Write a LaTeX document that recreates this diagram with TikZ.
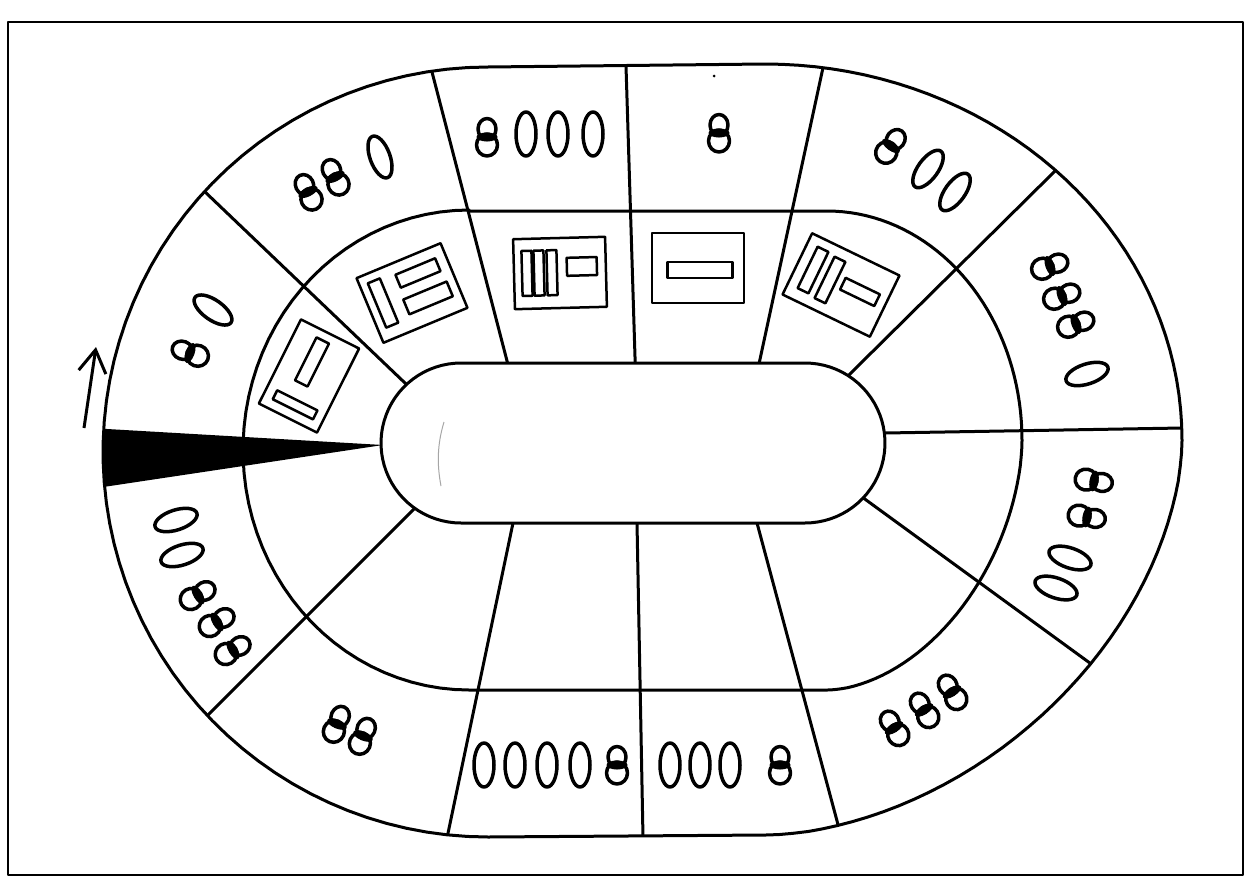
\documentclass[tikz,border=0pt]{standalone}
\usetikzlibrary{arrows.meta,calc}
\tikzset{
  board/.style={line width=0.06cm},
  glyphline/.style={line width=0.07cm},
  iconline/.style={line width=0.05cm},
  eye/.pic={
    \draw[glyphline] (0,-8) ellipse [x radius=0.18cm, y radius=0.21cm];
    \draw[glyphline] (0,8) ellipse [x radius=0.21cm, y radius=0.22cm];
    \fill (0,0) ellipse [x radius=0.21cm, y radius=0.09cm];
  },
  oval/.pic={
    \draw[glyphline] (0,0) ellipse [x radius=0.2cm, y radius=0.44cm];
  }
}
\newcommand{\icrect}[4]{\draw[iconline] ({#1-(#3)/2},{#2-(#4)/2}) rectangle ({#1+(#3)/2},{#2+(#4)/2});}
\begin{document}
\begin{tikzpicture}[x=0.02cm, y=-0.02cm, line join=round]
\useasboundingbox (0,0) rectangle (1250,879);
% page border
\draw[line width=0.045cm] (8,22) rectangle (1243,875);

% divider end points (outer side, inner side)
\coordinate (d1o) at (203,190);  \coordinate (d1i) at (405,383);
\coordinate (d2o) at (432,72);   \coordinate (d2i) at (506,357);
\coordinate (d3o) at (626,66);   \coordinate (d3i) at (635,357);
\coordinate (d4o) at (824,63);   \coordinate (d4i) at (762,350);
\coordinate (d5o) at (1053,173); \coordinate (d5i) at (862,362);
\coordinate (d6o) at (1182,428); \coordinate (d6i) at (885,433);
\coordinate (d7o) at (1072,650); \coordinate (d7i) at (862,497);
\coordinate (d8o) at (840,832);  \coordinate (d8i) at (757,523);
\coordinate (d9o) at (643,838);  \coordinate (d9i) at (637,523);
\coordinate (d10o) at (447,838); \coordinate (d10i) at (513,523);
\coordinate (d11o) at (213,710); \coordinate (d11i) at (405,518);

\begin{scope}
  \clip (488,67) -- (765,64)
    -- plot[domain=-90:0, samples=40] ({765+417*cos(\x)},{440+376*sin(\x)})
    -- plot[domain=0.5:89.5, samples=40] ({765+417*cos(\x)^1.111},{440+395*sin(\x)^1.111})
    -- (765,835) -- (488,837)
    -- plot[domain=90:270, samples=60] ({488+385*cos(\x)},{452+385*sin(\x)}) -- cycle;
  \foreach \d in {1,...,11}{
    \draw[board] ($(d\d o)!-0.15!(d\d i)$) -- ($(d\d o)!1.2!(d\d i)$);
  }
  \fill (90,428) -- (383,445) -- (90,489) -- cycle;
\end{scope}

% inner stadium
\draw[board, fill=white] (461,363) -- (805,363)
  -- plot[domain=-90:90, samples=40] ({805+80*cos(\x)},{443+80*sin(\x)})
  -- (461,523)
  -- plot[domain=90:270, samples=40] ({461+80*cos(\x)},{443+80*sin(\x)}) -- cycle;
\draw[gray!70, line width=0.02cm] (444,422) .. controls (437,445) and (437,465) .. (441,486);

% outer boundary
\draw[board] (488,67) -- (765,64)
    -- plot[domain=-90:0, samples=40] ({765+417*cos(\x)},{440+376*sin(\x)})
    -- plot[domain=0.5:89.5, samples=40] ({765+417*cos(\x)^1.111},{440+395*sin(\x)^1.111})
    -- (765,835) -- (488,837)
    -- plot[domain=90:270, samples=60] ({488+385*cos(\x)},{452+385*sin(\x)}) -- cycle;
% middle boundary
\draw[board] (469,211) -- (827,211)
    -- plot[domain=-90:0, samples=40] ({827+195*cos(\x)},{440+229*sin(\x)})
    -- plot[domain=0.5:89.5, samples=40] ({827+195*cos(\x)^1.111},{440+250*sin(\x)^1.111})
    -- (827,690) -- (469,690)
    -- plot[domain=90:270, samples=50] ({469+226*cos(\x)},{450+240*sin(\x)}) -- cycle;

% stray speck
\fill (714,76) circle [radius=0.03cm];

% glyphs in the outer ring
\path (308,192) pic[rotate=26] {eye} (335,177) pic[rotate=26] {eye} (380,157) pic[rotate=20] {oval};
\path (487,137) pic {eye} (526,134) pic {oval} (558,134) pic {oval} (593,134) pic {oval};
\path (719,133) pic {eye};
\path (891,146) pic[rotate=-36] {eye} (928,169) pic[rotate=-36] {oval} (955,192) pic[rotate=-36] {oval};
\path (1050,266) pic[rotate=-70] {eye} (1062,296) pic[rotate=-70] {eye} (1076,324) pic[rotate=-70] {eye} (1087,374) pic[rotate=-72] {oval};
\path (1094,481) pic[rotate=-100] {eye} (1087,517) pic[rotate=-100] {eye} (1070,558) pic[rotate=-109] {oval} (1056,588) pic[rotate=-109] {oval};
\path (894,728) pic[rotate=32] {eye} (924,710) pic[rotate=32] {eye} (952,692) pic[rotate=32] {eye};
\path (670,765) pic {oval} (700,765) pic {oval} (730,765) pic {oval} (780,765) pic {eye};
\path (484,765) pic {oval} (515,765) pic {oval} (547,765) pic {oval} (580,765) pic {oval} (617,765) pic {eye};
\path (337,724) pic[rotate=-23] {eye} (363,736) pic[rotate=-23] {eye};
\path (176,520) pic[rotate=-72] {oval} (182,555) pic[rotate=-72] {oval} (198,595) pic[rotate=-60] {eye} (217,622) pic[rotate=-60] {eye} (233,650) pic[rotate=-60] {eye};
\path (190,353) pic[rotate=70] {eye} (213,310) pic[rotate=55] {oval};

% icons in the middle ring
\begin{scope}[shift={(309,376)}, rotate=-26.6]
  \icrect{0}{0}{65}{94}
  \icrect{-3.6}{-13.9}{14}{48}
  \icrect{0.5}{32}{45}{10}
\end{scope}
\begin{scope}[shift={(412,293)}, rotate=22.6]
  \icrect{0}{0}{91}{70}
  \icrect{-30.6}{-1.9}{13}{48}
  \icrect{13.2}{-16.2}{43}{14}
  \icrect{12.9}{10.7}{47}{16}
\end{scope}
\begin{scope}[shift={(560,273)}, rotate=1.5]
  \icrect{0}{0}{92}{70}
  \icrect{-33}{-0.5}{10}{45}
  \icrect{-21}{-0.5}{10}{45}
  \icrect{-8}{-0.5}{10}{45}
  \icrect{22}{-6}{30}{18}
\end{scope}
\begin{scope}[shift={(698,268)}]
  \icrect{0}{0}{92}{70}
  \icrect{2}{2}{65}{16}
\end{scope}
\begin{scope}[shift={(841,285)}, rotate=-25.8]
  \icrect{0}{0}{97}{68}
  \icrect{-31.7}{-1.3}{12}{46}
  \icrect{-12.1}{0.3}{12}{46}
  \icrect{20.1}{-2}{38}{13}
\end{scope}

% direction arrow
\coordinate (arrS) at (84,428);
\coordinate (arrE) at (96,347);
\draw[line width=0.06cm, -{Straight Barb[length=0.45cm, width=0.55cm, line width=0.06cm]}] (arrS) -- (arrE);
\end{tikzpicture}
\end{document}
